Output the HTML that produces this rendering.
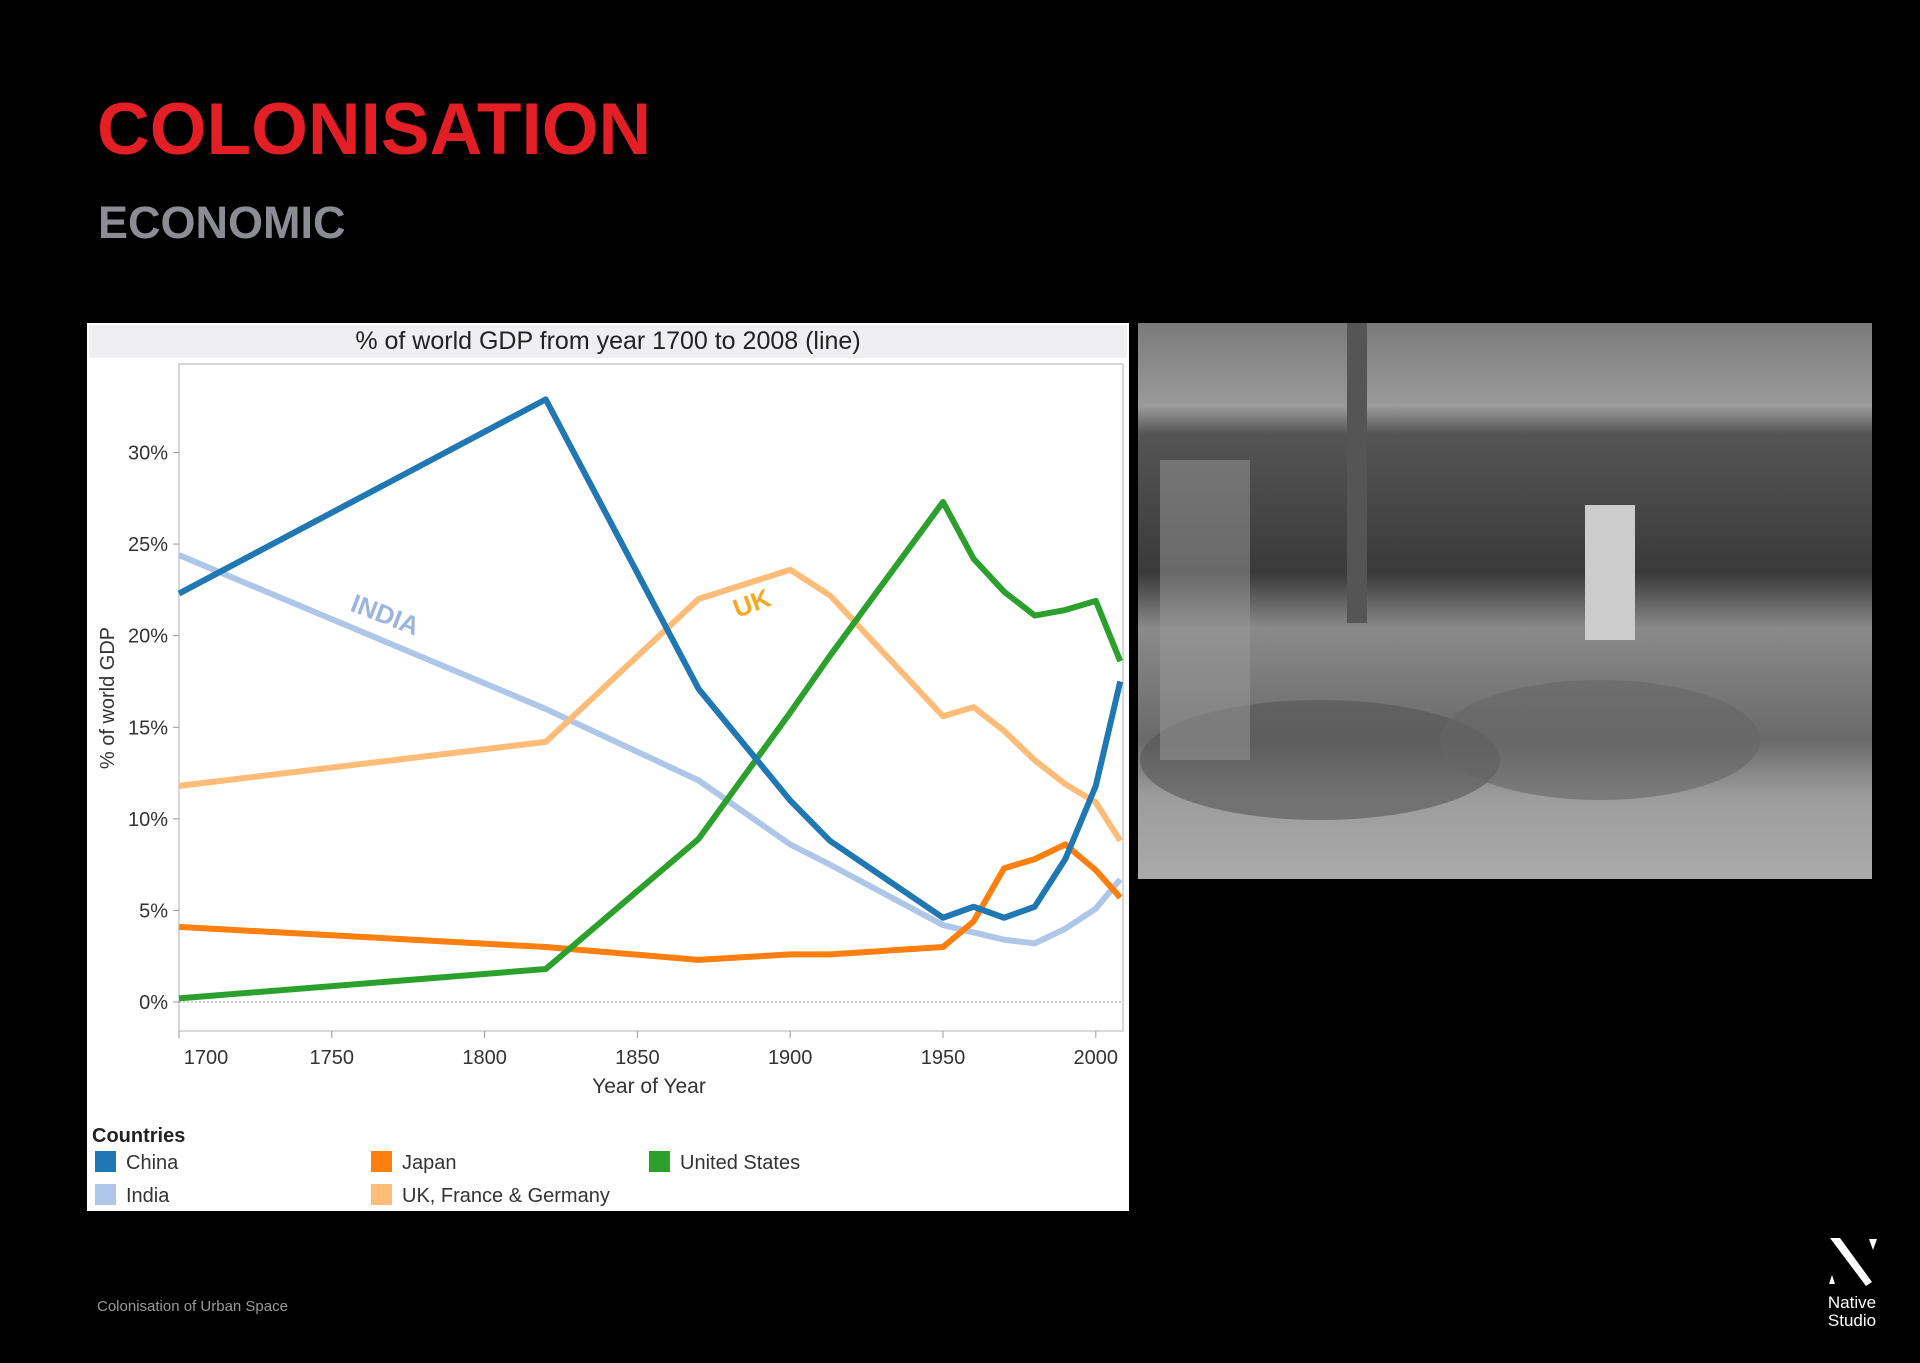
<!DOCTYPE html>
<html><head><meta charset="utf-8"><style>
html,body{margin:0;padding:0;background:#000;}
body{width:1920px;height:1358px;overflow:hidden;position:relative;font-family:"Liberation Sans",sans-serif;}
</style></head><body>
<svg width="1920" height="1358" viewBox="0 0 1920 1358" xmlns="http://www.w3.org/2000/svg">
<rect width="1920" height="1358" fill="#000"/>
<text x="97" y="154" font-size="73" font-weight="bold" fill="#e31e24" font-family="Liberation Sans, sans-serif">COLONISATION</text>
<text x="98" y="238" font-size="45" font-weight="bold" fill="#8c8c94" font-family="Liberation Sans, sans-serif">ECONOMIC</text>
<text x="97" y="1311" font-size="15" fill="#999" font-family="Liberation Sans, sans-serif">Colonisation of Urban Space</text>
<g>
<polygon points="1830,1238 1840,1238 1872,1282 1866,1286" fill="#fff"/>
<polygon points="1869,1239 1877,1239 1873,1250" fill="#fff"/>
<polygon points="1829,1284 1835,1284 1832,1275" fill="#fff"/>
<text x="1852" y="1308" font-size="17" fill="#fff" text-anchor="middle">Native</text>
<text x="1852" y="1326" font-size="17" fill="#fff" text-anchor="middle">Studio</text>
</g>
<g>
<defs><linearGradient id="pg" x1="0" y1="0" x2="0" y2="1">
<stop offset="0" stop-color="#7a7a7a"/><stop offset="0.15" stop-color="#9a9a9a"/><stop offset="0.2" stop-color="#555"/><stop offset="0.45" stop-color="#3a3a3a"/><stop offset="0.55" stop-color="#8a8a8a"/><stop offset="0.75" stop-color="#6a6a6a"/><stop offset="0.85" stop-color="#9c9c9c"/><stop offset="1" stop-color="#aaa"/></linearGradient></defs>
<rect x="1138" y="323" width="734" height="556" fill="url(#pg)"/>
<rect x="1347" y="323" width="20" height="300" fill="#555"/>
<rect x="1585" y="505" width="50" height="135" fill="#ccc"/>
<ellipse cx="1320" cy="760" rx="180" ry="60" fill="#555" opacity="0.6"/>
<ellipse cx="1600" cy="740" rx="160" ry="60" fill="#666" opacity="0.6"/>
<rect x="1160" y="460" width="90" height="300" fill="#999" opacity="0.5"/>
</g>
<g>
<rect x="87" y="323" width="1042" height="888" fill="#fff"/>
<rect x="89" y="325" width="1038" height="33" fill="#efeff2"/>
<text x="608" y="349" font-size="25" text-anchor="middle" fill="#222">% of world GDP from year 1700 to 2008 (line)</text>
<rect x="179" y="364" width="944" height="667" fill="none" stroke="#ccc" stroke-width="1.5"/>
<g id="axes"></g>
<g id="lines"></g>
<text x="382" y="623" font-size="26" font-weight="bold" fill="#9ab6e0" text-anchor="middle" transform="rotate(21 382 623)">INDIA</text>
<text x="752" y="612" font-size="26" font-weight="bold" fill="#f7a823" text-anchor="middle" transform="rotate(-20 752 604)">UK</text>
<text x="649" y="1093" font-size="21" text-anchor="middle" fill="#333">Year of Year</text>
<text x="0" y="0" font-size="20" text-anchor="middle" fill="#333" transform="translate(114 698) rotate(-90)">% of world GDP</text>
<text x="92" y="1142" font-size="20" font-weight="bold" fill="#222">Countries</text>
<g id="legend"></g>
</g>
</svg>
<script>
const years=[1700,1820,1870,1900,1913,1950,1960,1970,1980,1990,2000,2008];
const china=[22.3,32.9,17.1,11.0,8.8,4.6,5.2,4.6,5.2,7.8,11.8,17.5];
const india=[24.4,16.0,12.1,8.6,7.5,4.2,3.8,3.4,3.2,4.0,5.1,6.7];
const ukfg=[11.8,14.2,22.0,23.6,22.2,15.6,16.1,14.8,13.2,11.9,10.9,8.8];
const usa=[0.2,1.8,8.9,15.8,18.9,27.3,24.2,22.4,21.1,21.4,21.9,18.6];
const japan=[4.1,3.0,2.3,2.6,2.6,3.0,4.4,7.3,7.8,8.6,7.2,5.7];
const yTicks=[0,5,10,15,20,25,30];
const xTicks=[1700,1750,1800,1850,1900,1950,2000];
const NS="http://www.w3.org/2000/svg";
const X=y=>179+(y-1700)*(152.8/50);
const Y=v=>1002-v*(549.5/30);
function mk(t,a,p){const e=document.createElementNS(NS,t);for(const k in a)e.setAttribute(k,a[k]);p.appendChild(e);return e;}
const ax=document.getElementById('axes');
mk('line',{x1:179,x2:1123,y1:Y(0),y2:Y(0),stroke:'#999','stroke-dasharray':'2,2','stroke-width':1},ax);
yTicks.forEach(v=>{
 mk('line',{x1:173,x2:179,y1:Y(v),y2:Y(v),stroke:'#999'},ax);
 const t=mk('text',{x:168,y:Y(v)+7,'font-size':20,'text-anchor':'end',fill:'#333'},ax);t.textContent=v+'%';
 
 
});
xTicks.forEach((v,i)=>{
 mk('line',{x1:X(v),x2:X(v),y1:1031,y2:1038,stroke:'#999'},ax);
 const off=i===0?27:0;
 const t=mk('text',{x:X(v)+off,y:1064,'font-size':20,'text-anchor':'middle',fill:'#333'},ax);t.textContent=v;
 
 
});
const lg=document.getElementById('lines');
const sers=[[india,'#aec7e8','india-line'],[ukfg,'#ffbb78','ukfg-line'],[japan,'#ff7f0e','japan-line'],[usa,'#2ca02c','usa-line'],[china,'#1f77b4','china-line']];
sers.forEach(([d,c,n])=>{
 const p=mk('polyline',{points:d.map((v,i)=>X(years[i])+','+Y(v)).join(' '),fill:'none',stroke:c,'stroke-width':6,'stroke-linejoin':'round'},lg);
 
 
});
const leg=document.getElementById('legend');
[['China','#1f77b4',95,1151],['Japan','#ff7f0e',371,1151],['United States','#2ca02c',649,1151],['India','#aec7e8',95,1184],['UK, France & Germany','#ffbb78',371,1184]].forEach(([n,c,x,y])=>{
 const g=mk('g',{},leg);
 
 
 mk('rect',{x:x,y:y,width:21,height:21,fill:c},g);
 const t=mk('text',{x:x+31,y:y+18,'font-size':20,fill:'#333'},g);t.textContent=n;
});
</script>
</body></html>
